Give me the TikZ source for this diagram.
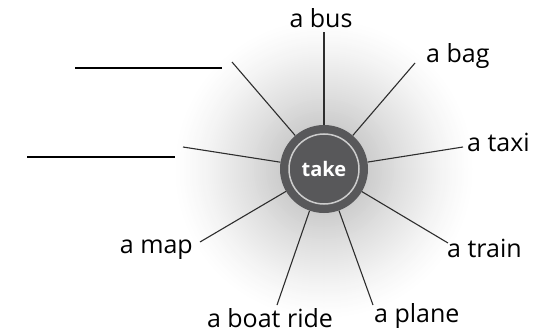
\documentclass[tikz,border=0pt]{standalone}
\usepackage{fontspec}
\setmainfont{Open Sans}
\usepackage{tikz}
\usetikzlibrary{
  arrows.meta,
  positioning,
  calc,
  backgrounds
}
\definecolor{hubgray}{RGB}{88,88,90}
\definecolor{ringgray}{RGB}{205,205,205}
\definecolor{spokegray}{RGB}{45,45,45}
\tikzset{
  hub/.style={
    circle, fill=hubgray, inner sep=0pt,
    minimum size=88pt
  },
  ring/.style={draw=ringgray, line width=1.5pt},
  spoke/.style={draw=spokegray, line width=1.1pt},
  blank/.style={draw=black, line width=1.2pt},
  word/.style={font=\fontsize{25}{28}\selectfont, inner sep=0pt}
}

\begin{document}
\begin{tikzpicture}[x=1pt, y=-1pt]

\useasboundingbox (0,0) rectangle (538,334);

% Glow behind the hub
\foreach \r in {152,150,...,44}{
  \pgfmathsetmacro\k{20*((152-\r)/108)^1.3}
  \fill[black!\k] (324,169) circle (\r pt);
}

% Hub
\node[hub] (take) at (324,169) {};
\draw[ring] (take.center) circle (35pt);
\node[text=white, font=\fontsize{20}{22}\selectfont\bfseries] (takelabel) at (take.center) {take};

% Word labels
\node[word, anchor=base] (bus) at (321,28) {a bus};
\node[word, anchor=base west] (bag) at (426,63) {a bag};
\node[word, anchor=base west] (taxi) at (467,152) {a taxi};
\node[word, anchor=base west] (train) at (447,257) {a train};
\node[word, anchor=base west] (plane) at (374,322) {a plane};
\node[word, anchor=base] (boat) at (270,327) {a boat ride};
\node[word, anchor=base east] (map) at (193,253) {a map};

% Free ends of the spokes
\coordinate (busend) at (324,32);
\coordinate (bagend) at (415,63);
\coordinate (taxiend) at (463,147);
\coordinate (trainend) at (448,243);
\coordinate (planeend) at (373,305);
\coordinate (boatend) at (277,305);
\coordinate (mapend) at (200,242);
\coordinate (upend) at (232,62);
\coordinate (lowend) at (183,147);

% Spokes
\foreach \e in {busend,bagend,taxiend,trainend,planeend,boatend,mapend,upend,lowend}
  \draw[spoke] (take) -- (\e);

% Blank answer lines
\coordinate (upa) at (75,68);
\coordinate (upb) at (222,68);
\coordinate (lowa) at (27,157);
\coordinate (lowb) at (175,157);
\draw[blank] (upa) -- (upb);
\draw[blank] (lowa) -- (lowb);

\end{tikzpicture}
\end{document}
